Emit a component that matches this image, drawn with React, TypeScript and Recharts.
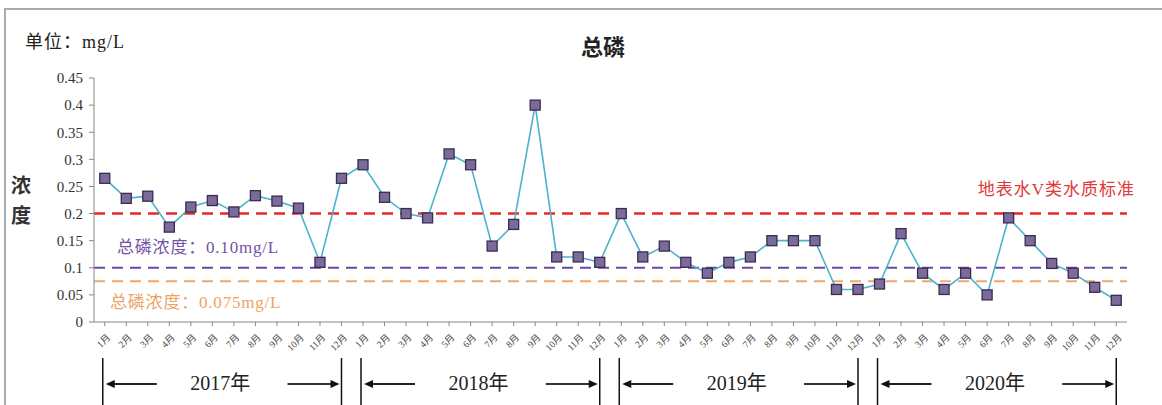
import React from 'react';
import { LineChart, Line, XAxis, YAxis, ReferenceLine } from 'recharts';

const years = ['2017', '2018', '2019', '2020'];
const months = ['1月', '2月', '3月', '4月', '5月', '6月', '7月', '8月', '9月', '10月', '11月', '12月'];
const values2017 = [0.265, 0.228, 0.232, 0.175, 0.212, 0.224, 0.203, 0.233, 0.223, 0.21, 0.11, 0.265];
const values2018 = [0.29, 0.23, 0.2, 0.192, 0.31, 0.29, 0.14, 0.18, 0.4, 0.12, 0.12, 0.11];
const values2019 = [0.2, 0.12, 0.14, 0.11, 0.09, 0.11, 0.12, 0.15, 0.15, 0.15, 0.06, 0.06];
const values2020 = [0.07, 0.163, 0.09, 0.06, 0.09, 0.05, 0.192, 0.15, 0.108, 0.09, 0.064, 0.04];
const yearValues = [values2017, values2018, values2019, values2020];
const yTicks = [0, 0.05, 0.1, 0.15, 0.2, 0.25, 0.3, 0.35, 0.4, 0.45];
const limitV = 0.2;
const limitA = 0.1;
const limitB = 0.075;

const data = years.flatMap((y, yi) =>
  months.map((m, mi) => ({ key: `${y}-${mi + 1}`, month: m, value: yearValues[yi][mi] }))
);

const W = 1162;
const H = 405;
const MARGIN = { top: 78, right: 35, left: 0, bottom: 53 };
const YW = 94;
const BAND = (W - MARGIN.left - MARGIN.right - YW) / data.length;
const SERIF = '"Liberation Serif", "Times New Roman", "Noto Sans CJK SC", serif';

const monthOf: Record<string, string> = Object.fromEntries(data.map((d) => [d.key, d.month]));

const XTick = (props: any) => {
  const { x, y, payload } = props;
  const tx = x + 4;
  const ty = y + 8;
  return (
    <text x={tx} y={ty} transform={`rotate(-45, ${tx}, ${ty})`} textAnchor="end" fontSize={9.5}
      fontFamily={SERIF} fill="#444" dominantBaseline="central">
      {monthOf[payload.value]}
    </text>
  );
};

const Square = (props: any) => {
  const { cx, cy } = props;
  if (cx == null || cy == null) return null;
  return <rect x={cx - 5} y={cy - 5} width={10} height={10} fill="#7b6b9b" stroke="#3b2b50" strokeWidth={1.3} />;
};

const StartShape = (props: any) => {
  const x = props.x1;
  const b = Math.max(props.y1, props.y2);
  const ay = b + 62;
  return (
    <g>
      <line x1={x - 2} y1={b + 36} x2={x - 2} y2={H} stroke="#111" strokeWidth={1.5} />
      <line x1={x + 8} y1={ay} x2={x + 52} y2={ay} stroke="#222" strokeWidth={2} />
      <polygon points={`${x + 1},${ay} ${x + 10},${ay - 4} ${x + 10},${ay + 4}`} fill="#111" />
    </g>
  );
};

const EndShape = (props: any) => {
  const x = props.x1;
  const b = Math.max(props.y1, props.y2);
  const ay = b + 62;
  return (
    <g>
      <line x1={x} y1={b + 36} x2={x} y2={H} stroke="#111" strokeWidth={1.5} />
      <line x1={x - 54} y1={ay} x2={x - 9} y2={ay} stroke="#333" strokeWidth={2} />
      <polygon points={`${x - 2},${ay} ${x - 11},${ay - 4} ${x - 11},${ay + 4}`} fill="#111" />
    </g>
  );
};

const makeYearShape = (label: string) => (props: any) => {
  const x = props.x1 + BAND / 2;
  const b = Math.max(props.y1, props.y2);
  return (
    <text x={x - 3} y={b + 68} textAnchor="middle" fontSize={20} fontFamily={SERIF} fill="#222">
      {label}
    </text>
  );
};

export default function App() {
  return (
    <div style={{ position: 'absolute', left: 0, top: 0, width: W, height: H, background: '#fff', overflow: 'hidden' }}>
      <div style={{ position: 'absolute', left: 4, top: 8, width: W, height: H, borderTop: '2px solid #aaa', borderLeft: '2px solid #aaa' }} />
      <div style={{ position: 'absolute', left: 25, top: 27, fontSize: 18, fontFamily: SERIF, color: '#222', whiteSpace: 'nowrap', letterSpacing: 1 }}>
        单位：mg/L
      </div>
      <div style={{ position: 'absolute', left: 0, width: 1206, top: 29, textAlign: 'center', fontSize: 22, fontWeight: 'bold', fontFamily: '"Noto Sans CJK SC", sans-serif', color: '#222' }}>
        总磷
      </div>
      <div style={{ position: 'absolute', left: 11, top: 170, fontSize: 20, lineHeight: '30px', fontWeight: 'bold', fontFamily: '"Noto Sans CJK SC", sans-serif', color: '#333', width: 24 }}>
        浓<br />度
      </div>
      <LineChart width={W} height={H} data={data} margin={MARGIN}>
        <XAxis dataKey="key" interval={0} tick={<XTick />} tickLine={{ stroke: '#888' }} axisLine={{ stroke: '#888' }}
          height={30} tickSize={4} padding={{ left: BAND / 2, right: BAND / 2 }} />
        <YAxis type="number" domain={[0, 0.45]} ticks={yTicks} width={YW} tickSize={5} tickMargin={6}
          tick={{ fontSize: 15, fontFamily: SERIF, fill: '#333' }} axisLine={{ stroke: '#888' }} tickLine={{ stroke: '#888' }}
          tickFormatter={(v: number) => String(v)} interval={0} />
        <ReferenceLine y={limitV} stroke="#e8282b" strokeWidth={2.5} strokeDasharray="11 7" ifOverflow="visible"
          label={(p: any) => (
            <text x={p.viewBox.x + p.viewBox.width + 8} y={p.viewBox.y - 19} textAnchor="end" fontSize={17} letterSpacing={1} fontFamily={SERIF} fill="#e03a3a">
              地表水V类水质标准
            </text>
          )} />
        <ReferenceLine y={limitA} stroke="#6f45a8" strokeWidth={2} strokeDasharray="11 7" ifOverflow="visible"
          label={(p: any) => (
            <text x={p.viewBox.x + 23} y={p.viewBox.y - 15} textAnchor="start" fontSize={17} letterSpacing={0.8} fontFamily={SERIF} fill="#7452a6">
              总磷浓度：0.10mg/L
            </text>
          )} />
        <ReferenceLine y={limitB} stroke="#f2a868" strokeWidth={2} strokeDasharray="11 7" ifOverflow="visible"
          label={(p: any) => (
            <text x={p.viewBox.x + 16} y={p.viewBox.y + 27} textAnchor="start" fontSize={17} letterSpacing={0.8} fontFamily={SERIF} fill="#eea364">
              总磷浓度：0.075mg/L
            </text>
          )} />
        {years.map((y) => (
          <ReferenceLine key={`s${y}`} x={`${y}-1`} stroke="none" ifOverflow="visible" shape={StartShape} />
        ))}
        {years.map((y) => (
          <ReferenceLine key={`e${y}`} x={`${y}-12`} stroke="none" ifOverflow="visible" shape={EndShape} />
        ))}
        {years.map((y) => (
          <ReferenceLine key={`t${y}`} x={`${y}-6`} stroke="none" ifOverflow="visible" shape={makeYearShape(`${y}年`)} />
        ))}
        <Line type="linear" dataKey="value" stroke="#4bb3cc" strokeWidth={1.6} dot={<Square />} activeDot={false} isAnimationActive={false} />
      </LineChart>
    </div>
  );
}
